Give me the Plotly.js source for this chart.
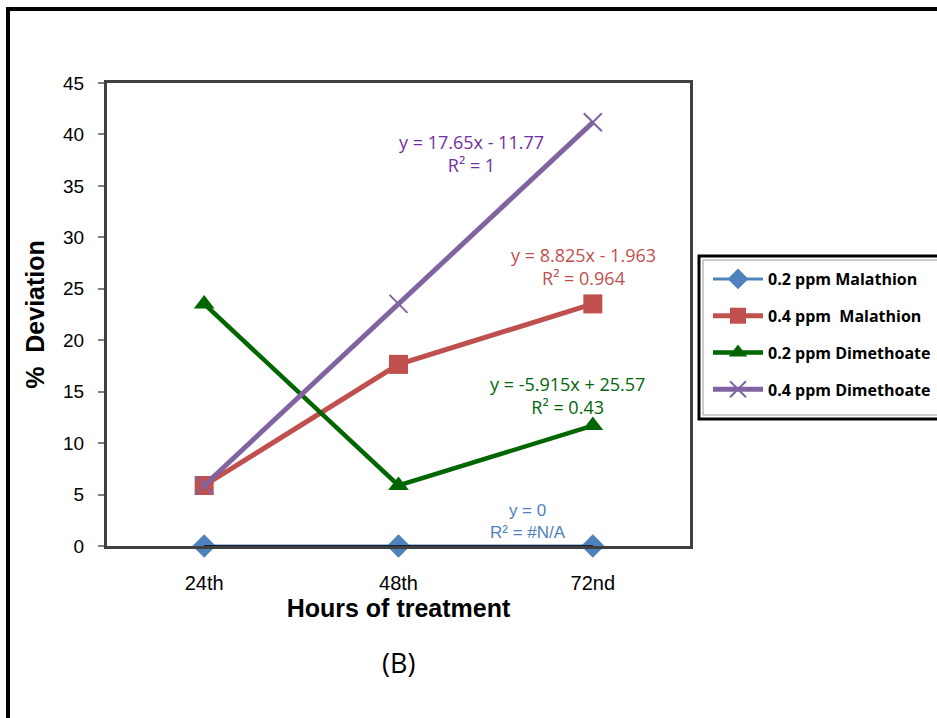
<!DOCTYPE html>
<html>
<head>
<meta charset="utf-8">
<script src="https://cdn.plot.ly/plotly-3.0.1.min.js"></script>
<style>
  html, body { margin: 0; padding: 0; background: #ffffff; }
  #chart { width: 937px; height: 718px; }
</style>
</head>
<body>
<div id="chart"></div>
<script>
// ---- data ----
var hours = ["24th", "48th", "72nd"];
var malathion02 = [0, 0, 0];
var malathion04 = [5.88, 17.65, 23.53];
var dimethoate02 = [23.53, 5.88, 11.7];
var dimethoate04 = [5.88, 23.53, 41.18];
var seriesNames = ["0.2 ppm Malathion", "0.4 ppm  Malathion", "0.2 ppm Dimethoate", "0.4 ppm Dimethoate"];
var yTicks = [0, 5, 10, 15, 20, 25, 30, 35, 40, 45];
var trendMalathion02 = [0, 0, 0];
var eqTexts = [
  {text: "y = 17.65x - 11.77<br>R² = 1", cat: "48th", val: 38.1, color: "#7030A0"},
  {text: "y = 8.825x - 1.963<br>R² = 0.964", cat: "72nd", val: 27.2, color: "#C0504D"},
  {text: "y = -5.915x + 25.57<br>R² = 0.43", cat: "72nd", val: 14.6, color: "#00660A"},
  {text: "y = 0<br>R² = #N/A", cat: "72nd", val: 2.4, color: "#4F81BD"}
];

// ---- geometry helpers (paper coords) ----
var L = 107, R = 247, T = 83, B = 172, W = 937, H = 718;
var pw = W - L - R, ph = H - T - B;
function px(x) { return (x - L) / pw; }
function py(y) { return (H - B - y) / ph; }

var traces = [
  {x: hours, y: malathion02, name: seriesNames[0], type: "scatter", mode: "lines+markers",
   line: {color: "#4F81BD", width: 3}, marker: {symbol: "diamond", size: 18, color: "#4F81BD"},
   legendgroup: "a", cliponaxis: false},
  {x: hours, y: malathion04, name: seriesNames[1], type: "scatter", mode: "lines+markers",
   line: {color: "#C0504D", width: 5}, marker: {symbol: "square", size: 19, color: "#C0504D"},
   legendgroup: "b", cliponaxis: false},
  {x: hours, y: dimethoate02, name: seriesNames[2], type: "scatter", mode: "lines+markers",
   line: {color: "#006600", width: 4.5}, marker: {symbol: "triangle-up", size: 18, color: "#006600"},
   legendgroup: "c", cliponaxis: false},
  {x: hours, y: dimethoate04, name: seriesNames[3], type: "scatter", mode: "lines+markers",
   line: {color: "#8064A2", width: 5}, marker: {symbol: "x-thin-open", size: 18, line: {color: "#8064A2", width: 2}, color: "#8064A2"},
   legendgroup: "d", cliponaxis: false},
  {x: hours, y: trendMalathion02, type: "scatter", mode: "lines", showlegend: false,
   line: {color: "#000000", width: 1.5}, hoverinfo: "skip", cliponaxis: false}
];

var annotations = eqTexts.map(function (e) {
  return {xref: "x", yref: "y", x: e.cat, y: e.val, text: e.text, showarrow: false,
    xanchor: "center", yanchor: "middle", align: "center",
    font: {family: "Open Sans, Noto Sans, sans-serif", size: 18, color: e.color}};
});
annotations[0].xshift = 73;
annotations[1].xshift = -9;
annotations[2].xshift = -25;
annotations[3].xshift = -65;
annotations[3].font = {family: "Liberation Sans, Arial, sans-serif", size: 17, color: "#4F81BD"};

annotations.push({xref: "paper", yref: "paper", x: px(398), y: py(662), text: "(B)", showarrow: false,
  xanchor: "center", yanchor: "middle",
  font: {family: "Open Sans, Noto Sans, sans-serif", size: 27, color: "#000"}});

var layout = {
  width: W, height: H,
  margin: {l: L, r: R, t: T, b: B, pad: 0, autoexpand: false},
  paper_bgcolor: "#ffffff", plot_bgcolor: "#ffffff",
  showlegend: true,
  font: {family: "Liberation Sans, Arial, sans-serif", color: "#000"},
  xaxis: {
    type: "category", categoryorder: "array", categoryarray: hours,
    range: [-0.5, 2.5], showgrid: false, zeroline: false,
    showline: true, mirror: true, linecolor: "#404040", linewidth: 3,
    ticks: "", ticklabelstandoff: 17,
    tickfont: {family: "Liberation Sans, Arial, sans-serif", size: 20, color: "#000"},
    title: {text: "<b>Hours of treatment</b>", standoff: 5,
      font: {family: "Liberation Sans, Arial, sans-serif", size: 25, color: "#000"}}
  },
  yaxis: {
    range: [0, 45], tickvals: yTicks, showgrid: false, zeroline: false,
    showline: true, mirror: true, linecolor: "#404040", linewidth: 3,
    ticks: "outside", ticklen: 6, tickwidth: 2, tickcolor: "#808080",
    ticklabelstandoff: 10,
    tickfont: {family: "Liberation Sans, Arial, sans-serif", size: 19, color: "#000"},
    title: {text: "<b>%  Deviation</b>", standoff: 12,
      font: {family: "Liberation Sans, Arial, sans-serif", size: 25, color: "#000"}}
  },
  legend: {
    x: px(708), y: py(262), xanchor: "left", yanchor: "top",
    bgcolor: "rgba(0,0,0,0)", borderwidth: 0,
    traceorder: "grouped", tracegroupgap: 13, itemwidth: 50,
    font: {family: "Open Sans, Noto Sans, sans-serif", size: 16, color: "#000", weight: "bold"}
  },
  annotations: annotations,
  shapes: [
    {type: "rect", xref: "paper", yref: "paper", x0: px(8), x1: px(960), y0: py(9), y1: py(760),
     line: {color: "#000", width: 4}, layer: "below"},
    {type: "rect", xref: "paper", yref: "paper", x0: px(699), x1: px(960), y0: py(256), y1: py(419),
     line: {color: "#000", width: 3}, fillcolor: "#ffffff", layer: "below"},
    {type: "rect", xref: "paper", yref: "paper", x0: px(703), x1: px(960), y0: py(260), y1: py(415),
     line: {color: "#999999", width: 1}, layer: "below"}
  ]
};

Plotly.newPlot("chart", traces, layout, {displayModeBar: false, staticPlot: true});
</script>
</body>
</html>
